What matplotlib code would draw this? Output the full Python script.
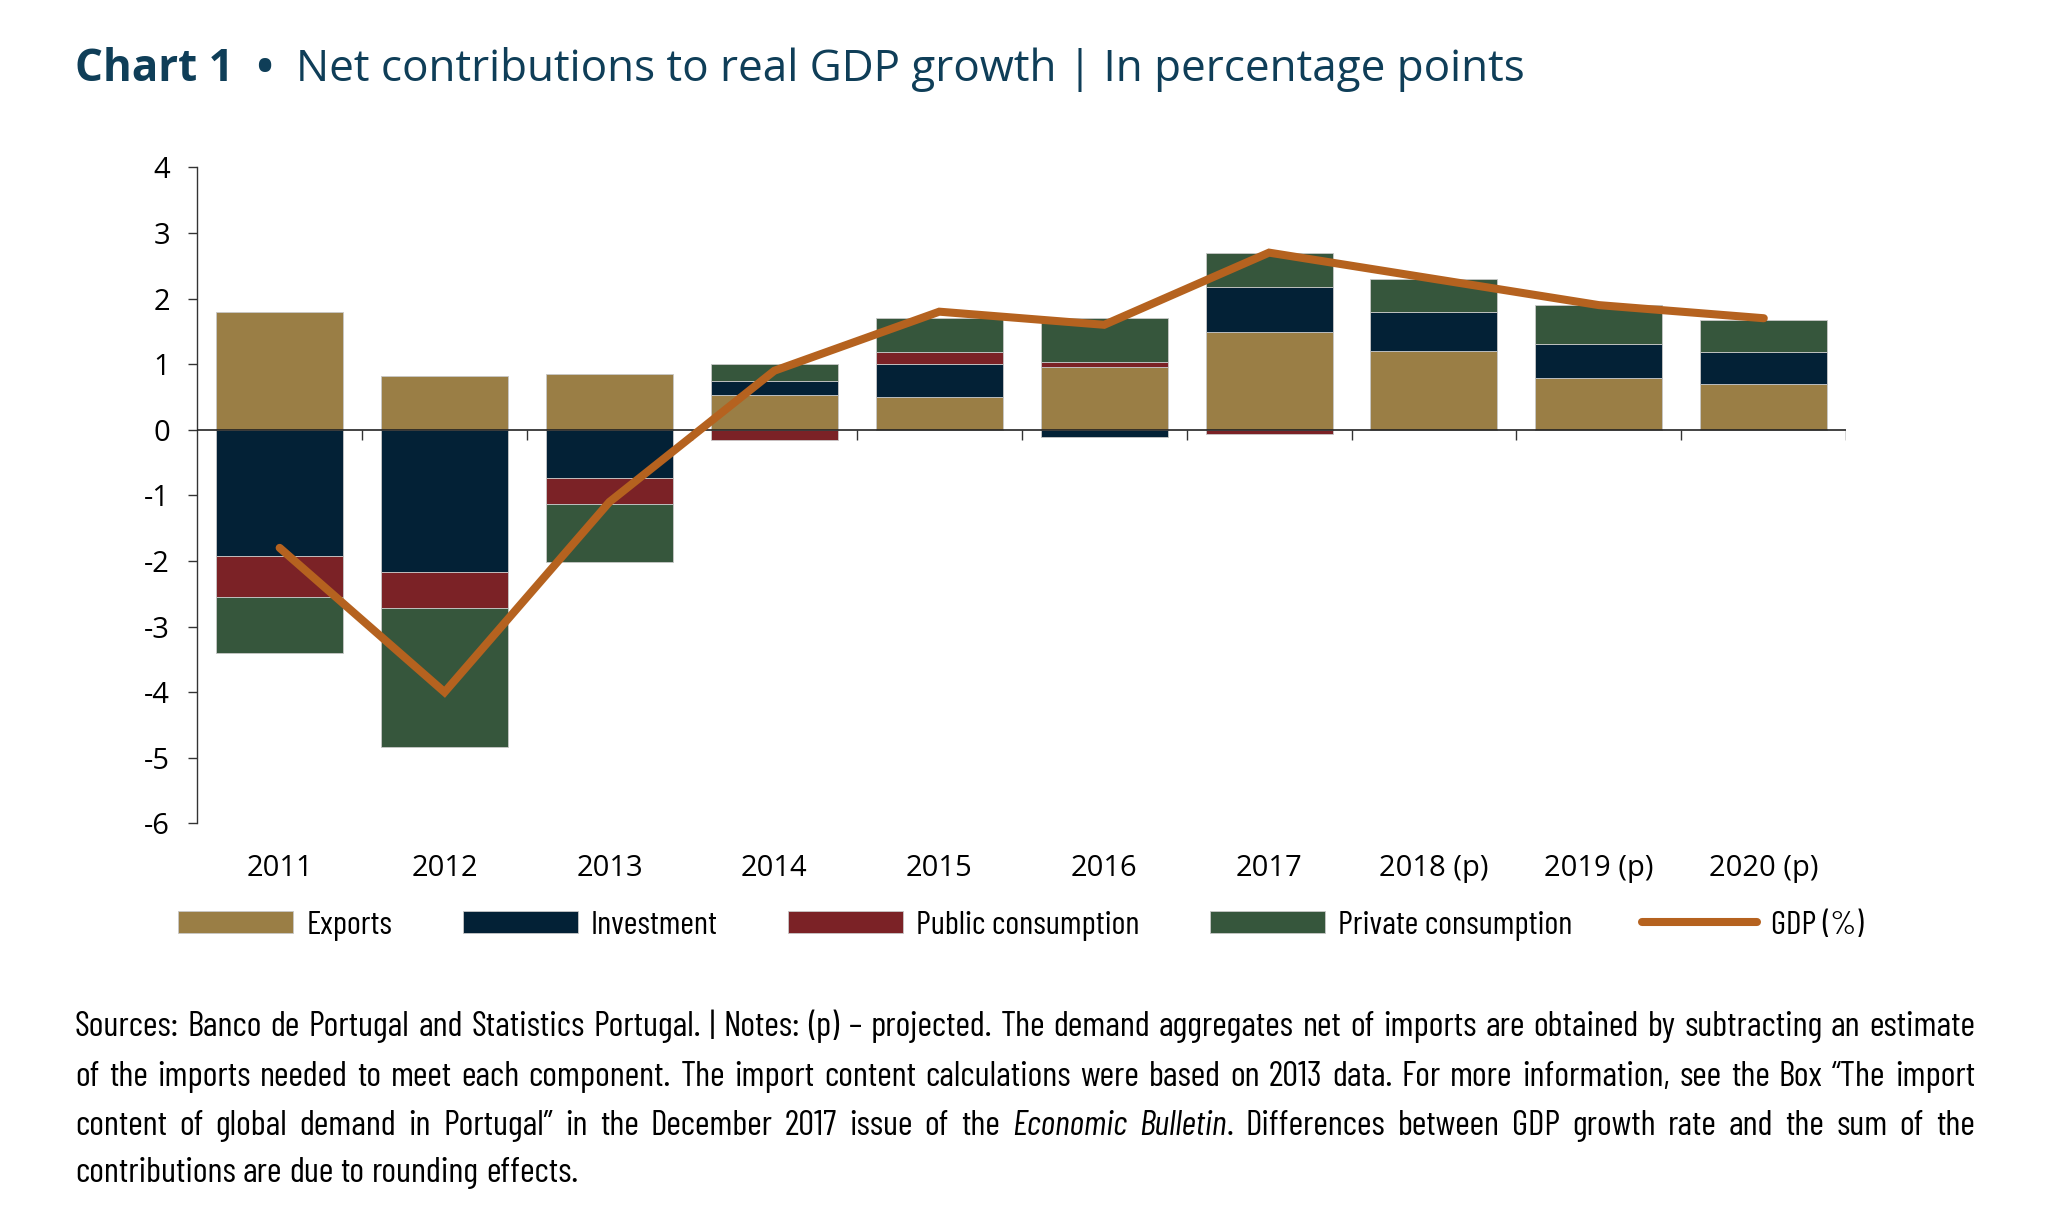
import numpy as np
import matplotlib
matplotlib.use("Agg")
import matplotlib.pyplot as plt
from matplotlib import font_manager

years = ['2011', '2012', '2013', '2014', '2015', '2016', '2017',
         '2018 (p)', '2019 (p)', '2020 (p)']
exports = [1.80, 0.82, 0.85, 0.53, 0.50, 0.95, 1.49, 1.20, 0.79, 0.69]
investment = [-1.92, -2.17, -0.74, 0.21, 0.51, -0.11, 0.69, 0.60, 0.51, 0.50]
public = [-0.63, -0.54, -0.39, -0.16, 0.17, 0.08, -0.06, 0.0, 0.0, 0.0]
private = [-0.86, -2.13, -0.89, 0.26, 0.52, 0.67, 0.52, 0.50, 0.60, 0.49]
gdp = [-1.8, -4.0, -1.1, 0.9, 1.8, 1.6, 2.7, 2.3, 1.9, 1.7]

series = [("Exports", exports, "#9a7e45"),
          ("Investment", investment, "#032136"),
          ("Public consumption", public, "#7b2226"),
          ("Private consumption", private, "#36563c")]
gdp_color = "#b5621f"
title_color = "#0f3e58"

# condensed face for legend and notes
names = {f.name for f in font_manager.fontManager.ttflist}
if "Open Sans Condensed Light" in names:
    cond = {'family': "Open Sans Condensed Light"}
else:
    cond = {'family': "Barlow Condensed", 'weight': 400}

plt.rcParams['font.family'] = ['Open Sans', 'DejaVu Sans']
plt.rcParams['axes.unicode_minus'] = False

fig = plt.figure(figsize=(20.5, 12.26), dpi=100)
ax = fig.add_axes([0.0962, 0.3284, 0.8044, 0.5351])

x = np.arange(len(years))
pos = np.zeros(len(years))
neg = np.zeros(len(years))
handles = []
for name, vals, col in series:
    vals = np.array(vals)
    bottom = np.where(vals >= 0, pos, neg)
    b = ax.bar(x, vals, 0.77, bottom=bottom, color=col, label=name,
               edgecolor="#c8c8c8", linewidth=0.6, zorder=2)
    handles.append(b)
    pos = pos + np.where(vals >= 0, vals, 0)
    neg = neg + np.where(vals < 0, vals, 0)

line, = ax.plot(x, gdp, color=gdp_color, lw=5.8, solid_capstyle='round',
                solid_joinstyle='miter', label="GDP (%)", zorder=4)
handles.append(line)

ax.set_xlim(-0.5, len(years) - 0.5)
ax.set_ylim(-6, 4)
ax.set_yticks(range(-6, 5))
ax.tick_params(axis='y', direction='out', length=6.5, width=1.0,
               labelsize=21, pad=13, color="#333333")
ax.set_xticks(x, years)
ax.tick_params(axis='x', length=0, labelsize=21, pad=22)
for s in ['top', 'right', 'bottom']:
    ax.spines[s].set_visible(False)
ax.spines['left'].set_linewidth(1.0)
ax.spines['left'].set_color("#333333")
ax.axhline(0, color="#222222", lw=1.2, zorder=3)
ax.vlines(x + 0.5, -0.16, 0, color="#333333", lw=1.0, zorder=3)

fig.legend(handles=handles, loc='center', bbox_to_anchor=(0.498, 0.245),
           ncol=5, frameon=False, prop=dict(cond, size=24),
           handlelength=3.45, handleheight=0.62, handletextpad=0.4,
           columnspacing=2.1)

# title in three parts
r = fig.canvas.get_renderer()
tx = 0.0365
for txt, wt in [("Chart 1", 'bold'), ("  \u2022  ", 'bold'),
                ("Net contributions to real GDP growth | In percentage points", 'normal')]:
    t = fig.text(tx, 0.934, txt, size=31.7, weight=wt, color=title_color,
                 va='baseline')
    tx += t.get_window_extent(r).width / fig.bbox.width

# justified notes
lines = [
    "Sources: Banco de Portugal and Statistics Portugal.  |  Notes: (p) \u2013 projected. The demand aggregates net of imports are obtained by subtracting an estimate",
    "of the imports needed to meet each component. The import content calculations were based on 2013 data. For more information, see the Box \u201cThe import",
    "content of  global demand in Portugal\u201d in the December 2017 issue of the *Economic *Bulletin. Differences between GDP growth rate and the sum of the",
    "contributions are due to rounding effects.",
]
x0, x1 = 0.0365, 0.9635
ys = [0.1546, 0.1141, 0.0746, 0.0362]

probe = fig.text(0, 0, lines[0].replace("*", ""), size=20, **cond)
wnat = probe.get_window_extent(r).width / fig.bbox.width
probe.remove()
note_size = min(29, 20 * (x1 - x0) / wnat * 0.99)

for k, (ln, y) in enumerate(zip(lines, ys)):
    words = ln.split()
    objs = []
    for w in words:
        parts = []
        if w.startswith("*"):
            core = w[1:].rstrip(".")
            parts.append(fig.text(0, y, core, size=note_size, style='italic',
                                  va='baseline', **cond))
            if w.endswith("."):
                parts.append(fig.text(0, y, ".", size=note_size,
                                      va='baseline', **cond))
        else:
            parts.append(fig.text(0, y, w, size=note_size, va='baseline', **cond))
        objs.append(parts)
    widths = [[p.get_window_extent(r).width / fig.bbox.width for p in parts]
              for parts in objs]
    total = sum(sum(ws) for ws in widths)
    if k < len(lines) - 1:
        gap = (x1 - x0 - total) / (len(words) - 1)
    else:
        sp = fig.text(0, 0, "a a", size=note_size, **cond)
        sa = fig.text(0, 0, "aa", size=note_size, **cond)
        gap = (sp.get_window_extent(r).width - sa.get_window_extent(r).width) / fig.bbox.width
        sp.remove()
        sa.remove()
    xc = x0
    for parts, ws in zip(objs, widths):
        for p, wd in zip(parts, ws):
            p.set_x(xc)
            xc += wd
        xc += gap

fig.savefig("out.png", dpi=100, facecolor="white")
